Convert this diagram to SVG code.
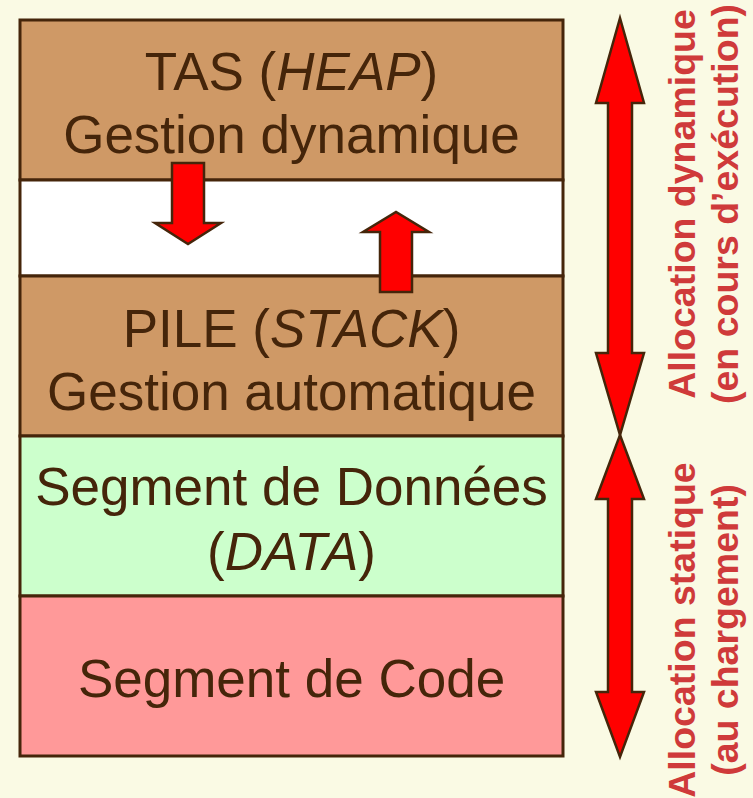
<svg xmlns="http://www.w3.org/2000/svg" width="753" height="798" viewBox="0 0 753 798">
  <style>
    .seg { stroke: #45250A; stroke-width: 3; }
    .lbl { font-family: "Liberation Sans", Arial, sans-serif; font-size: 53px; fill: #45250A; text-anchor: middle; }
    .it { font-style: italic; }
    .side { font-family: "Liberation Sans", Arial, sans-serif; font-weight: bold; font-size: 37.5px; fill: #CF3A3A; text-anchor: middle; }
    .arr { fill: #FF0000; stroke: #45250A; stroke-width: 2.5; stroke-linejoin: miter; }
  </style>
  <rect width="753" height="798" fill="#FAFAE4"/>

  <!-- memory segments -->
  <g id="tas">
    <rect class="seg" x="20" y="20" width="543" height="160" fill="#CF9966"/>
    <text class="lbl" x="291.5" y="90">TAS (<tspan class="it">HEAP</tspan>)</text>
    <text class="lbl" x="291.5" y="153">Gestion dynamique</text>
  </g>
  <g id="libre">
    <rect class="seg" x="20" y="180" width="543" height="96" fill="#FFFFFF"/>
  </g>
  <g id="pile">
    <rect class="seg" x="20" y="276" width="543" height="160" fill="#CF9966"/>
    <text class="lbl" x="291.5" y="347">PILE (<tspan class="it">STACK</tspan>)</text>
    <text class="lbl" x="291.5" y="410">Gestion automatique</text>
  </g>
  <g id="data">
    <rect class="seg" x="20" y="436" width="543" height="160" fill="#CCFFCC"/>
    <text class="lbl" x="291.5" y="505">Segment de Données</text>
    <text class="lbl" x="291.5" y="570">(<tspan class="it">DATA</tspan>)</text>
  </g>
  <g id="code">
    <rect class="seg" x="20" y="596" width="543" height="160" fill="#FF9999"/>
    <text class="lbl" x="291.5" y="697">Segment de Code</text>
  </g>

  <!-- growth arrows and allocation ranges -->
  <g id="arrows">
    <polygon class="arr" points="172,163 204,163 204,223 221,223 188,244 155,223 172,223"/>
    <polygon class="arr" points="380,292 412,292 412,232 429,232 396,212 363,232 380,232"/>
    <polygon class="arr" points="620,18 644,103 632,103 632,353 644,353 620,435 596,353 608,353 608,103 596,103"/>
    <polygon class="arr" points="620,435 644,499 632,499 632,692 644,692 620,757 596,692 608,692 608,499 596,499"/>
  </g>

  <!-- side captions -->
  <g id="dynamique">
    <text class="side" transform="translate(695,204) rotate(-90)">Allocation dynamique</text>
    <text class="side" transform="translate(738,204) rotate(-90)">(en cours d’exécution)</text>
  </g>
  <g id="statique">
    <text class="side" transform="translate(695,630) rotate(-90)">Allocation statique</text>
    <text class="side" transform="translate(738,630) rotate(-90)">(au chargement)</text>
  </g>
</svg>
